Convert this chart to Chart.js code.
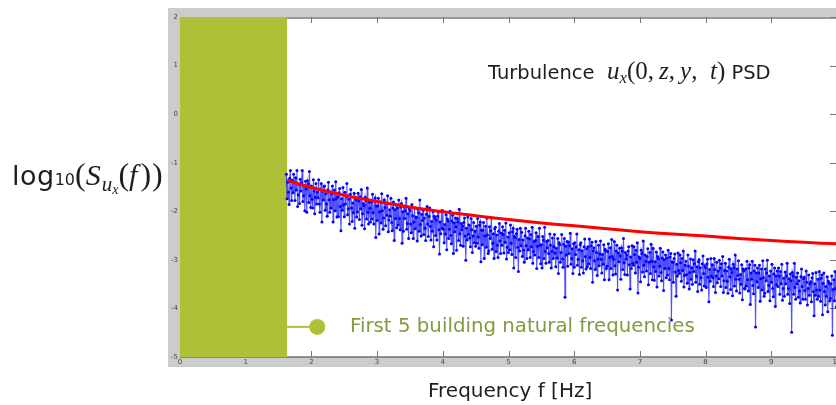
<!DOCTYPE html>
<html>
<head>
<meta charset="utf-8">
<script src="https://cdn.jsdelivr.net/npm/chart.js@4.4.1/dist/chart.umd.min.js"></script>
<style>
  html,body{margin:0;padding:0;background:#fff;}
  body{width:836px;height:405px;overflow:hidden;position:relative;}
  #c{position:absolute;left:0;top:0;}
  .t{position:absolute;white-space:nowrap;font-family:"DejaVu Sans",sans-serif;color:#1e1e1e;line-height:1;}
  .m{font-family:"Liberation Serif",serif;font-style:italic;}
  .r{font-family:"Liberation Serif",serif;font-style:normal;}
</style>
</head>
<body>
<canvas id="c" width="850" height="405"></canvas>

<div class="t" id="ytitle" style="left:12px;top:158px;font-size:27px;"><span style="letter-spacing:0.5px;">log</span><span style="font-size:16px;">10</span><span class="r" style="font-size:32px;">(</span><span class="m" style="font-size:30px;letter-spacing:1px;">S</span><span class="m" style="font-size:21px;position:relative;top:6px;">u<span style="font-size:14px;position:relative;top:3px;">x</span></span><span class="r" style="font-size:32px;">(</span><span class="m" style="font-size:30px;letter-spacing:3px;">f</span><span class="r" style="font-size:32px;letter-spacing:1px;">))</span></div>

<div class="t" id="title" style="left:488px;top:58px;font-size:19.5px;">Turbulence&nbsp; <span class="m" style="font-size:25px;">u</span><span class="m" style="font-size:17px;position:relative;top:4px;">x</span><span class="r" style="font-size:25px;">(0,&thinsp;</span><span class="m" style="font-size:25px;">z</span><span class="r" style="font-size:25px;">,&thinsp;</span><span class="m" style="font-size:25px;">y</span><span class="r" style="font-size:25px;">,&ensp;</span><span class="m" style="font-size:25px;">t</span><span class="r" style="font-size:25px;">)</span> PSD</div>

<div class="t" id="annot" style="left:350px;top:316px;font-size:19.8px;color:#7f9c3e;">First 5 building natural frequencies</div>

<div class="t" id="xtitle" style="left:428px;top:380px;font-size:20px;">Frequency f [Hz]</div>

<script>
// ---------------- data ----------------
const X_TICKS = [0,1,2,3,4,5,6,7,8,9,10];
const Y_TICKS = [-5,-4,-3,-2,-1,0,1,2];
const X_RANGE = [0, 10];
const Y_RANGE = [-5, 2];

// shaded band of the first five natural frequencies [Hz]
const BUILDING_BAND = [0, 1.63];
// annotation marker (frequency, log10 value)
const ANNOT_POINT = [2.09, -4.38];

// frequency bin spacing of the PSD estimate [Hz]
const BIN_STEP = 0.01;
// starting frequency of each segment
const SEG_START = [1.62, 2, 3, 4, 5, 6, 7, 8, 9];

const psd_seg1 = [-1.24,-1.74,-1.40,-1.61,-1.86,-1.32,-1.16,-1.52,-1.78,-1.36,
                  -1.62,-1.24,-1.40,-1.78,-1.31,-1.56,-1.16,-1.90,-1.66,-1.45,
                  -1.84,-1.34,-1.58,-1.42,-1.16,-1.80,-1.68,-1.48,-1.99,-1.38,
                  -1.54,-2.02,-1.37,-1.44,-1.82,-1.18,-1.68,-1.92];
const psd_seg2 = [-1.48,-1.75,-1.93,-1.35,-1.58,-2.05,-1.71,-1.43,-1.85,-1.61,
                  -1.72,-1.35,-1.85,-2.02,-1.55,-1.43,-2.22,-1.59,-1.77,-1.49,
                  -1.48,-1.98,-1.64,-1.85,-2.10,-1.56,-1.40,-1.76,-2.02,-1.60,
                  -1.94,-1.64,-1.48,-2.22,-1.76,-1.56,-1.99,-1.39,-1.74,-2.12,
                  -1.70,-2.11,-1.62,-1.53,-1.90,-2.40,-1.74,-1.98,-1.51,-1.87,
                  -2.11,-1.61,-1.85,-1.69,-1.43,-2.07,-1.95,-1.75,-2.26,-1.65,
                  -1.55,-1.93,-2.21,-1.83,-2.03,-1.63,-2.35,-1.72,-1.76,-2.12,
                  -2.01,-1.63,-1.79,-2.17,-1.70,-1.95,-1.55,-2.29,-2.05,-1.84,
                  -1.88,-2.36,-1.71,-1.78,-2.16,-1.52,-2.02,-2.26,-1.81,-1.94,
                  -2.22,-1.81,-2.16,-1.65,-2.03,-2.26,-1.79,-1.72,-2.54,-1.89];
const psd_seg3 = [-2.19,-1.89,-1.73,-2.47,-2.01,-1.81,-2.24,-1.64,-1.99,-2.37,
                  -2.14,-1.76,-1.92,-2.30,-1.83,-2.08,-1.68,-2.42,-2.18,-1.97,
                  -2.10,-1.73,-2.23,-2.40,-1.93,-1.81,-2.60,-1.97,-2.15,-1.87,
                  -2.34,-1.93,-2.28,-1.77,-2.15,-2.38,-1.91,-1.84,-2.66,-2.01,
                  -2.41,-1.91,-2.15,-1.99,-1.73,-2.37,-2.25,-2.05,-2.56,-1.95,
                  -1.99,-2.26,-2.44,-1.86,-2.09,-2.56,-2.22,-1.94,-2.36,-2.12,
                  -2.13,-2.61,-1.96,-2.03,-2.41,-1.77,-2.27,-2.51,-2.06,-2.19,
                  -1.98,-2.48,-2.14,-2.35,-2.60,-2.06,-1.90,-2.26,-2.52,-2.10,
                  -1.93,-2.31,-2.59,-2.21,-2.41,-2.01,-2.73,-2.10,-2.14,-2.50,
                  -2.18,-2.59,-2.10,-2.01,-2.38,-2.88,-2.22,-2.46,-1.99,-2.35];
const psd_seg4 = [-1.99,-2.37,-2.65,-2.27,-2.47,-2.07,-2.79,-2.16,-2.20,-2.56,
                  -2.37,-2.00,-2.50,-2.67,-2.20,-2.08,-2.87,-2.24,-2.42,-2.14,
                  -2.32,-2.80,-2.15,-2.22,-2.60,-1.96,-2.46,-2.70,-2.25,-2.38,
                  -2.31,-2.72,-2.23,-2.14,-2.51,-3.01,-2.35,-2.59,-2.12,-2.48,
                  -2.28,-2.55,-2.73,-2.15,-2.38,-2.85,-2.51,-2.23,-2.65,-2.41,
                  -2.72,-2.31,-2.66,-2.15,-2.53,-2.76,-2.29,-2.22,-3.04,-2.39,
                  -2.69,-2.39,-2.23,-2.97,-2.51,-2.31,-2.74,-2.14,-2.49,-2.87,
                  -2.82,-2.32,-2.56,-2.40,-2.14,-2.78,-2.66,-2.46,-2.97,-2.36,
                  -2.33,-2.83,-2.49,-2.70,-2.95,-2.41,-2.25,-2.61,-2.87,-2.45,
                  -2.70,-2.32,-2.48,-2.86,-2.39,-2.64,-2.24,-2.98,-2.74,-2.53];
const psd_seg5 = [-2.85,-2.44,-2.79,-2.28,-2.66,-2.89,-2.42,-2.35,-3.17,-2.52,
                  -2.54,-2.95,-2.46,-2.37,-2.74,-3.24,-2.58,-2.82,-2.35,-2.71,
                  -2.43,-2.93,-2.59,-2.80,-3.05,-2.51,-2.35,-2.71,-2.97,-2.55,
                  -2.79,-2.41,-2.57,-2.95,-2.48,-2.73,-2.33,-3.07,-2.83,-2.62,
                  -2.90,-2.60,-2.44,-3.18,-2.72,-2.52,-2.95,-2.35,-2.70,-3.08,
                  -2.69,-3.17,-2.52,-2.59,-2.97,-2.33,-2.83,-3.07,-2.62,-2.75,
                  -2.60,-2.87,-3.05,-2.47,-2.70,-3.17,-2.83,-2.55,-2.97,-2.73,
                  -2.48,-2.86,-3.14,-2.76,-2.96,-2.56,-3.28,-2.65,-2.69,-3.05,
                  -2.85,-2.48,-2.98,-3.15,-2.68,-2.56,-3.77,-2.72,-2.90,-2.62,
                  -3.13,-2.63,-2.87,-2.71,-2.45,-3.09,-2.97,-2.77,-3.28,-2.67];
const psd_seg6 = [-3.15,-2.65,-2.89,-2.73,-2.47,-3.11,-2.99,-2.79,-3.30,-2.69,
                  -2.65,-3.15,-2.81,-3.02,-3.27,-2.73,-2.57,-2.93,-3.19,-2.77,
                  -3.14,-2.73,-3.08,-2.57,-2.95,-3.18,-2.71,-2.64,-3.46,-2.81,
                  -2.75,-3.02,-3.20,-2.62,-2.85,-3.32,-2.98,-2.70,-3.12,-2.88,
                  -2.61,-2.99,-3.27,-2.89,-3.09,-2.69,-3.41,-2.78,-2.82,-3.18,
                  -3.13,-2.83,-2.67,-3.41,-2.95,-2.75,-3.18,-2.58,-2.93,-3.31,
                  -2.99,-2.62,-3.12,-3.29,-2.82,-2.70,-3.62,-2.86,-3.04,-2.76,
                  -2.92,-3.40,-2.75,-2.82,-3.20,-2.56,-3.06,-3.30,-2.85,-2.98,
                  -2.90,-3.31,-2.82,-2.73,-3.10,-3.60,-2.94,-3.18,-2.71,-3.07,
                  -3.11,-2.73,-2.89,-3.27,-2.80,-3.05,-2.65,-3.68,-3.15,-2.94];
const psd_seg7 = [-2.97,-3.45,-2.80,-2.87,-3.25,-2.61,-3.11,-3.35,-2.90,-3.03,
                  -3.23,-2.93,-2.77,-3.51,-3.05,-2.85,-3.28,-2.68,-3.03,-3.41,
                  -2.76,-3.14,-3.42,-3.04,-3.24,-2.84,-3.56,-2.93,-2.97,-3.33,
                  -3.13,-2.76,-3.26,-3.43,-2.96,-2.84,-3.63,-3.00,-3.18,-2.90,
                  -3.37,-2.96,-3.31,-2.80,-3.18,-3.41,-2.94,-2.87,-4.24,-3.04,
                  -3.05,-3.46,-2.97,-2.88,-3.25,-3.75,-3.09,-3.33,-2.86,-3.22,
                  -3.28,-2.90,-3.06,-3.44,-2.97,-3.22,-2.82,-3.56,-3.32,-3.11,
                  -3.03,-3.30,-3.48,-2.90,-3.13,-3.60,-3.26,-2.98,-3.40,-3.16,
                  -3.50,-3.00,-3.24,-3.08,-2.82,-3.46,-3.34,-3.14,-3.65,-3.04,
                  -3.00,-3.50,-3.16,-3.37,-3.62,-3.08,-2.92,-3.28,-3.54,-3.12];
const psd_seg8 = [-3.16,-3.57,-3.08,-2.99,-3.36,-3.86,-3.20,-3.44,-2.97,-3.33,
                  -3.10,-3.37,-3.55,-2.97,-3.20,-3.67,-3.33,-3.05,-3.47,-3.23,
                  -3.39,-3.01,-3.17,-3.55,-3.08,-3.33,-2.93,-3.67,-3.43,-3.22,
                  -3.07,-3.57,-3.23,-3.44,-3.69,-3.15,-2.99,-3.35,-3.61,-3.19,
                  -3.26,-3.74,-3.09,-3.16,-3.54,-2.90,-3.40,-3.64,-3.19,-3.32,
                  -3.02,-3.40,-3.68,-3.30,-3.50,-3.10,-3.82,-3.19,-3.23,-3.59,
                  -3.60,-3.19,-3.54,-3.03,-3.41,-3.64,-3.17,-3.10,-3.92,-3.27,
                  -3.40,-3.03,-3.53,-3.70,-3.23,-3.11,-4.38,-3.27,-3.45,-3.17,
                  -3.57,-3.27,-3.11,-3.85,-3.39,-3.19,-3.62,-3.02,-3.37,-3.75,
                  -3.69,-3.19,-3.43,-3.27,-3.01,-3.65,-3.53,-3.33,-3.84,-3.23];
const psd_seg9 = [-3.46,-3.09,-3.59,-3.76,-3.29,-3.17,-3.96,-3.33,-3.51,-3.23,
                  -3.55,-3.17,-3.33,-3.71,-3.24,-3.49,-3.09,-3.83,-3.59,-3.38,
                  -3.75,-3.25,-3.49,-3.33,-3.07,-3.71,-3.59,-3.39,-3.90,-3.29,
                  -3.43,-4.49,-3.26,-3.33,-3.71,-3.07,-3.57,-3.81,-3.36,-3.49,
                  -3.27,-3.77,-3.43,-3.64,-3.89,-3.35,-3.19,-3.55,-3.81,-3.39,
                  -3.36,-3.63,-3.81,-3.23,-3.46,-3.93,-3.59,-3.31,-3.73,-3.49,
                  -3.45,-3.86,-3.37,-3.28,-3.65,-4.15,-3.49,-3.73,-3.26,-3.62,
                  -3.81,-3.40,-3.75,-3.24,-3.62,-3.85,-3.38,-3.31,-4.13,-3.48,
                  -3.27,-3.65,-3.93,-3.55,-3.75,-3.35,-4.07,-3.44,-3.48,-3.84,
                  -3.79,-3.49,-3.33,-4.55,-3.61,-3.41,-3.84,-3.24,-3.59,-3.97];

// red reference spectrum
const REF_FREQ = [1.63, 2, 2.5, 3, 3.5, 4, 4.5, 5, 5.5, 6, 6.5, 7, 7.5, 8, 8.5, 9, 9.5, 10];
const REF_VAL  = [-1.36,-1.51,-1.67,-1.80,-1.91,-2.01,-2.09,-2.17,-2.24,-2.30,-2.36,-2.42,-2.47,-2.51,-2.56,-2.60,-2.64,-2.67];

// ---------------- build datasets ----------------
const SEGMENTS = [psd_seg1, psd_seg2, psd_seg3, psd_seg4, psd_seg5, psd_seg6, psd_seg7, psd_seg8, psd_seg9];
const psdPoints = [];
SEGMENTS.forEach((seg, k) => {
  seg.forEach((v, i) => psdPoints.push({x: +(SEG_START[k] + i * BIN_STEP).toFixed(3), y: v}));
});
const refPoints = REF_FREQ.map((f, i) => ({x: f, y: REF_VAL[i]}));

const GREEN = '#b0c036';

const framePlugin = {
  id: 'frame',
  beforeDraw(chart) {
    const {ctx, chartArea: a} = chart;
    ctx.save();
    ctx.fillStyle = '#ffffff';
    ctx.fillRect(0, 0, chart.width, chart.height);
    ctx.fillStyle = '#cccccc';
    ctx.fillRect(a.left - 12, a.top - 9, chart.width, (a.bottom + 10) - (a.top - 9));
    ctx.fillStyle = '#ffffff';
    ctx.fillRect(a.left, a.top, a.right - a.left, a.bottom - a.top);
    ctx.strokeStyle = '#9a9a9a';
    ctx.lineWidth = 2;
    ctx.beginPath();
    ctx.moveTo(a.left, a.top + 1); ctx.lineTo(a.right, a.top + 1);
    ctx.stroke();
    ctx.strokeStyle = '#707070';
    ctx.lineWidth = 1.5;
    ctx.beginPath();
    ctx.moveTo(a.left, a.bottom); ctx.lineTo(a.right, a.bottom);
    ctx.stroke();
    ctx.restore();
  },
  beforeDatasetsDraw(chart) {
    const {ctx, chartArea: a, scales: {x, y}} = chart;
    ctx.save();
    // inward ticks
    ctx.strokeStyle = '#777777';
    ctx.lineWidth = 1;
    ctx.beginPath();
    X_TICKS.forEach(t => {
      const px = Math.round(x.getPixelForValue(t)) + 0.5;
      ctx.moveTo(px, a.bottom); ctx.lineTo(px, a.bottom - 6);
      ctx.moveTo(px, a.top); ctx.lineTo(px, a.top + 6);
    });
    Y_TICKS.forEach(t => {
      const py = Math.round(y.getPixelForValue(t)) + 0.5;
      ctx.moveTo(a.right, py); ctx.lineTo(a.right - 7, py);
    });
    ctx.stroke();
    // building natural-frequency band
    const x0 = x.getPixelForValue(BUILDING_BAND[0]);
    const x1 = x.getPixelForValue(BUILDING_BAND[1]);
    const yTop = y.getPixelForValue(Y_RANGE[1]);
    const yBot = y.getPixelForValue(Y_RANGE[0]);
    ctx.fillStyle = GREEN;
    ctx.fillRect(x0, yTop, x1 - x0, yBot - yTop);
    // annotation connector
    const cx = x.getPixelForValue(ANNOT_POINT[0]);
    const cy = y.getPixelForValue(ANNOT_POINT[1]);
    ctx.strokeStyle = GREEN;
    ctx.lineWidth = 2;
    ctx.beginPath();
    ctx.moveTo(x1, cy); ctx.lineTo(cx, cy);
    ctx.stroke();
    ctx.beginPath();
    ctx.arc(cx, cy, 8, 0, Math.PI * 2);
    ctx.fill();
    ctx.restore();
  }
};

new Chart(document.getElementById('c'), {
  type: 'scatter',
  data: {
    datasets: [
      {
        label: 'reference',
        data: refPoints,
        showLine: true,
        borderColor: '#ff0000',
        borderWidth: 3,
        pointRadius: 0,
        tension: 0.4,
        order: 0
      },
      {
        label: 'PSD',
        data: psdPoints,
        showLine: true,
        borderColor: 'rgba(20,20,255,0.75)',
        borderWidth: 1.1,
        pointRadius: 1.5,
        pointBorderWidth: 0,
        pointBackgroundColor: '#0000ff',
        order: 1
      }
    ]
  },
  options: {
    responsive: false,
    animation: false,
    events: [],
    layout: {padding: {left: 168, top: 17, right: 13, bottom: 36}},
    plugins: {legend: {display: false}, tooltip: {enabled: false}},
    scales: {
      x: {
        type: 'linear', min: X_RANGE[0], max: X_RANGE[1],
        afterBuildTicks: s => { s.ticks = X_TICKS.map(v => ({value: v})); },
        afterFit: s => { s.height = 12; },
        grid: {display: false, drawTicks: false}, border: {display: false},
        ticks: {padding: 1, color: '#444', font: {family: 'DejaVu Sans', size: 7}, maxRotation: 0}
      },
      y: {
        type: 'linear', min: Y_RANGE[0], max: Y_RANGE[1],
        afterBuildTicks: s => { s.ticks = Y_TICKS.map(v => ({value: v})); },
        afterFit: s => { s.width = 12; },
        grid: {display: false, drawTicks: false}, border: {display: false},
        ticks: {padding: 2, color: '#444', font: {family: 'DejaVu Sans', size: 7}}
      }
    }
  },
  plugins: [framePlugin]
});
</script>
</body>
</html>
